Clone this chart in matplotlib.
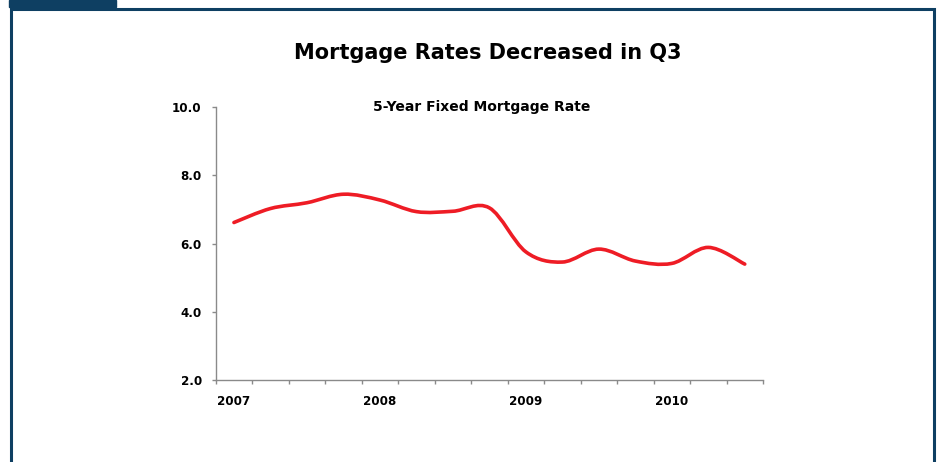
import numpy as np
import matplotlib
matplotlib.use("Agg")
import matplotlib.pyplot as plt
from matplotlib.path import Path
from matplotlib.patches import PathPatch, Rectangle

# quarterly 5-year fixed rate, 2007 Q1 .. 2010 Q3
quarters = ["2007 Q1", "2007 Q2", "2007 Q3", "2007 Q4",
            "2008 Q1", "2008 Q2", "2008 Q3", "2008 Q4",
            "2009 Q1", "2009 Q2", "2009 Q3", "2009 Q4",
            "2010 Q1", "2010 Q2", "2010 Q3"]
rates = [6.62, 7.03, 7.20, 7.45, 7.28, 6.94, 6.95, 7.05,
         5.76, 5.46, 5.84, 5.49, 5.42, 5.89, 5.40]
year_labels = ["2007", "2008", "2009", "2010"]
y_ticks = [2.0, 4.0, 6.0, 8.0, 10.0]

FONT = "DejaVu Sans"
NAVY = "#0e3f62"
RED = "#ee1c25"
GREY = "#8a8a8a"

fig = plt.figure(figsize=(9.38, 4.62), dpi=100)

# frame and small tab at the top left
fig.patches.append(Rectangle((9 / 938, 1 - 7 / 462), 107 / 938, 7 / 462,
                             transform=fig.transFigure, color=NAVY, zorder=0))
fig.patches.append(Rectangle((11 / 938, -0.05), 923 / 938, 1 - 8.5 / 462 + 0.05,
                             transform=fig.transFigure, fill=False,
                             edgecolor=NAVY, linewidth=2.2, zorder=0))

ax = fig.add_axes([215.7 / 938, 1 - 380 / 462, 547.3 / 938, 272.7 / 462])

x = np.arange(len(rates))
y = np.array(rates)

# smoothed line (cardinal bezier through the data points, like a spreadsheet "smooth line")
xp = np.concatenate([[x[0]], x, [x[-1]]])
yp = np.concatenate([[y[0]], y, [y[-1]]])
verts = [(x[0], y[0])]
codes = [Path.MOVETO]
for i in range(len(x) - 1):
    j = i + 1
    c1 = (x[i] + (xp[j + 1] - xp[j - 1]) / 6, y[i] + (yp[j + 1] - yp[j - 1]) / 6)
    c2 = (x[i + 1] - (xp[j + 2] - xp[j]) / 6, y[i + 1] - (yp[j + 2] - yp[j]) / 6)
    verts += [c1, c2, (x[i + 1], y[i + 1])]
    codes += [Path.CURVE4] * 3
ax.add_patch(PathPatch(Path(verts, codes), fill=False, edgecolor=RED,
                       linewidth=2.6, capstyle="round", joinstyle="round"))

ax.set_xlim(-0.5, len(rates) - 0.5)
ax.set_ylim(2.0, 10.0)

for s in ["top", "right"]:
    ax.spines[s].set_visible(False)
for s in ["left", "bottom"]:
    ax.spines[s].set_color(GREY)
    ax.spines[s].set_linewidth(1.0)

ax.set_xticks(np.arange(-0.5, len(rates), 1.0))
ax.set_xticklabels([])
ax.set_xticks([0, 4, 8, 12], minor=True)
ax.set_xticklabels(year_labels, minor=True, fontfamily=FONT,
                   fontweight="bold", fontsize=8.6)
ax.tick_params(axis="x", which="major", direction="out", length=3,
               width=1.0, color=GREY)
ax.tick_params(axis="x", which="minor", length=0, pad=11)

ax.set_yticks(y_ticks)
ax.set_yticklabels([f"{v:.1f}" for v in y_ticks], fontfamily=FONT,
                   fontweight="bold", fontsize=8.6)
ax.tick_params(axis="y", direction="out", length=3, width=1.0,
               color=GREY, pad=7)

fig.text(487.5 / 938, 1 - 53 / 462, "Mortgage Rates Decreased in Q3",
         ha="center", va="center", fontfamily=FONT, fontweight="bold",
         fontsize=15)
fig.text(482 / 938, 1 - 107.5 / 462, "5-Year Fixed Mortgage Rate",
         ha="center", va="center", fontfamily=FONT, fontweight="bold",
         fontsize=10)

fig.savefig("out.png", dpi=100)
